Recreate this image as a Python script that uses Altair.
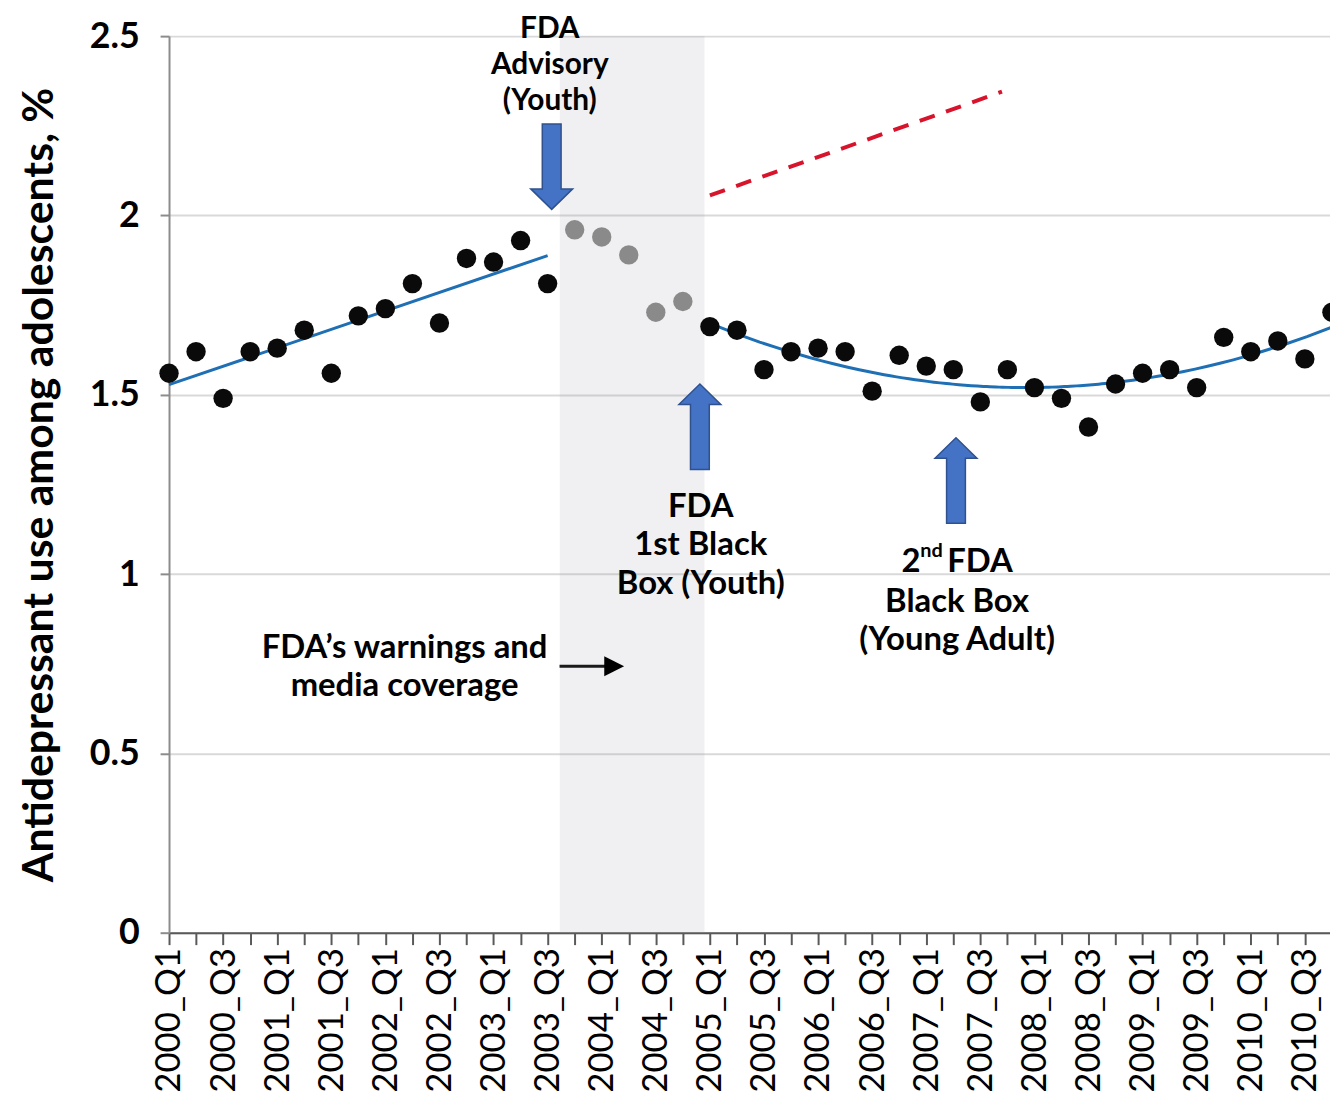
import altair as alt
import pandas as pd

# ---------------- data ----------------
quarters = [
    "2000_Q1", "2000_Q2", "2000_Q3", "2000_Q4",
    "2001_Q1", "2001_Q2", "2001_Q3", "2001_Q4",
    "2002_Q1", "2002_Q2", "2002_Q3", "2002_Q4",
    "2003_Q1", "2003_Q2", "2003_Q3", "2003_Q4",
    "2004_Q1", "2004_Q2", "2004_Q3", "2004_Q4",
    "2005_Q1", "2005_Q2", "2005_Q3", "2005_Q4",
    "2006_Q1", "2006_Q2", "2006_Q3", "2006_Q4",
    "2007_Q1", "2007_Q2", "2007_Q3", "2007_Q4",
    "2008_Q1", "2008_Q2", "2008_Q3", "2008_Q4",
    "2009_Q1", "2009_Q2", "2009_Q3", "2009_Q4",
    "2010_Q1", "2010_Q2", "2010_Q3", "2010_Q4",
]
usage = [
    1.56, 1.62, 1.49, 1.62,
    1.63, 1.68, 1.56, 1.72,
    1.74, 1.81, 1.70, 1.88,
    1.87, 1.93, 1.81, 1.96,
    1.94, 1.89, 1.73, 1.76,
    1.69, 1.68, 1.57, 1.62,
    1.63, 1.62, 1.51, 1.61,
    1.58, 1.57, 1.48, 1.57,
    1.52, 1.49, 1.41, 1.53,
    1.56, 1.57, 1.52, 1.66,
    1.62, 1.65, 1.60, 1.73,
]
warning_period = ["2003_Q4", "2004_Q1", "2004_Q2", "2004_Q3", "2004_Q4"]
pre_trend_end = "2003_Q3"
post_trend_start = "2005_Q1"

# shaded warnings / media coverage period (in quarter-index units)
band_from = [14.45]
band_to = [19.8]

# red dashed counterfactual trend
cf_x = [20.0, 30.8]
cf_y = [2.056, 2.345]

# blue block arrows (centre positions)
down_arrow_x = [14.15]
down_arrow_y = [2.136]
up_arrow_x = [19.63, 29.10]
up_arrow_y = [1.411, 1.261]

# small black arrow
small_arrow_x = [14.44, 16.17]
small_arrow_y = [0.743, 0.743]
small_head_x = [16.46]
small_head_y = [0.743]

# annotation above the first arrow
top_note_x = [14.08, 14.08, 14.08]
top_note_y = [2.519, 2.420, 2.320]
top_note_text = ["FDA", "Advisory", "(Youth)"]

note_x = [19.66, 19.66, 19.66, 29.14, 29.14, 8.71, 8.71]
note_y = [1.186, 1.081, 0.973, 0.923, 0.815, 0.795, 0.687]
note_text = ["FDA", "1st Black", "Box (Youth)",
             "Black Box", "(Young Adult)", "FDA\u2019s warnings and", "media coverage"]
sup_x = [29.14]
sup_y = [1.034]

y_ticks = [0, 0.5, 1, 1.5, 2, 2.5]

# ---------------- tables ----------------
df = pd.DataFrame({"quarter": quarters, "value": usage})
df["idx"] = range(len(quarters))
df["phase"] = ["warning" if q in warning_period else "normal" for q in quarters]
i_pre = quarters.index(pre_trend_end)
i_post = quarters.index(post_trend_start)
df_pre = df[df["idx"] <= i_pre]
df_post = df[df["idx"] >= i_post]

band_df = pd.DataFrame({"idx": band_from, "idx2": band_to, "value": [0], "value2": [2.5]})
cf_df = pd.DataFrame({"idx": cf_x, "value": cf_y})
down_df = pd.DataFrame({"idx": down_arrow_x, "value": down_arrow_y})
up_df = pd.DataFrame({"idx": up_arrow_x, "value": up_arrow_y})
sa_df = pd.DataFrame({"idx": small_arrow_x, "value": small_arrow_y})
sh_df = pd.DataFrame({"idx": small_head_x, "value": small_head_y})
top_df = pd.DataFrame({"idx": top_note_x, "value": top_note_y, "text": top_note_text})
notes_df = pd.DataFrame({"idx": note_x, "value": note_y, "text": note_text})
sup_df = pd.DataFrame({"idx": sup_x, "value": sup_y})

label_list = [q if i % 2 == 0 else "" for i, q in enumerate(quarters)]
label_expr = "[" + ",".join("'" + s + "'" for s in label_list) + "][datum.value]"

FONT = "Lato"
NOTE_SIZE = 33

x_axis = alt.Axis(
    values=list(range(len(quarters) - 1)), labelExpr=label_expr, labelAngle=270,
    labelFont=FONT, labelFontSize=35, labelColor="black", labelPadding=3,
    labelOverlap=False, labelFlush=False, tickSize=12, tickWidth=2,
    tickColor="#595959", domainColor="#595959", domainWidth=2, grid=False, title="",
)
y_axis = alt.Axis(
    values=y_ticks, format="~g", labelFont=FONT, labelFontWeight="bold",
    labelFontSize=36, labelColor="black", labelPadding=21, tickSize=9, tickWidth=2,
    tickColor="#8c8c8c", domainColor="#8c8c8c", domainWidth=2,
    gridColor="#d9d9d9", gridWidth=2,
    title="Antidepressant use among adolescents, %", titleFont=FONT, titleFontSize=43,
    titleFontWeight="bold", titleColor="black", titleAngle=270, titleX=-130, titleY=451,
    titleAlign="center", titleBaseline="middle",
)


def X():
    return alt.X("idx:Q", scale=alt.Scale(domain=[0, 42.93], nice=False, zero=False), axis=x_axis)


def Y():
    return alt.Y("value:Q", scale=alt.Scale(domain=[0, 2.5], nice=False), axis=y_axis)


band = alt.Chart(band_df).mark_rect(fill="#9a9aa8", opacity=0.15).encode(
    x=X(), x2="idx2:Q", y=Y(), y2="value2:Q")

cf_line = alt.Chart(cf_df).mark_line(color="#d7142b", strokeWidth=4, strokeDash=[16, 12]).encode(
    x=X(), y=Y())

trend_pre = alt.Chart(df_pre).transform_regression("idx", "value", method="linear").mark_line(
    color="#1f6fb4", strokeWidth=3).encode(x=X(), y=Y())
trend_post = alt.Chart(df_post).transform_regression("idx", "value", method="poly", order=2).mark_line(
    color="#1f6fb4", strokeWidth=3).encode(x=X(), y=Y())

points = alt.Chart(df).mark_circle(size=380, opacity=1).encode(
    x=X(), y=Y(),
    color=alt.Color("phase:N", scale=alt.Scale(domain=["normal", "warning"], range=["#0a0a0a", "#8a8a8a"]), legend=None),
)

down_path = "M-0.22,-1L0.22,-1L0.22,0.52L0.49,0.52L0,1L-0.49,0.52L-0.22,0.52Z"
up_path = "M-0.22,1L0.22,1L0.22,-0.52L0.49,-0.52L0,-1L-0.49,-0.52L-0.22,-0.52Z"

down_arrows = alt.Chart(down_df).mark_point(
    shape=down_path, filled=True, size=7396, fill="#4472c4", stroke="#2f528f", strokeWidth=1.5, opacity=1
).encode(x=X(), y=Y())
up_arrows = alt.Chart(up_df).mark_point(
    shape=up_path, filled=True, size=7396, fill="#4472c4", stroke="#2f528f", strokeWidth=1.5, opacity=1
).encode(x=X(), y=Y())

small_line = alt.Chart(sa_df).mark_line(color="#1a1a1a", strokeWidth=3).encode(x=X(), y=Y())
small_head = alt.Chart(sh_df).mark_point(
    shape="M-1,-1L1,0L-1,1Z", filled=True, size=400, color="#000000", opacity=1
).encode(x=X(), y=Y())

top_notes = alt.Chart(top_df).mark_text(
    font=FONT, fontSize=30, fontWeight="bold", color="black", align="center", baseline="middle"
).encode(x=X(), y=Y(), text="text:N")

notes = alt.Chart(notes_df).mark_text(
    font=FONT, fontSize=NOTE_SIZE, fontWeight="bold", color="black", align="center", baseline="middle"
).encode(x=X(), y=Y(), text="text:N")

sup_2 = alt.Chart(sup_df).mark_text(
    font=FONT, fontSize=NOTE_SIZE, fontWeight="bold", color="black", align="left", baseline="middle", dx=-56
).encode(x=X(), y=Y(), text=alt.value("2"))
sup_nd = alt.Chart(sup_df).mark_text(
    font=FONT, fontSize=20, fontWeight="bold", color="black", align="left", baseline="middle", dx=-37, dy=-11
).encode(x=X(), y=Y(), text=alt.value("nd"))
sup_fda = alt.Chart(sup_df).mark_text(
    font=FONT, fontSize=NOTE_SIZE, fontWeight="bold", color="black", align="left", baseline="middle", dx=-10
).encode(x=X(), y=Y(), text=alt.value("FDA"))

chart = alt.layer(
    band, cf_line, trend_pre, trend_post, points, down_arrows, up_arrows,
    small_line, small_head, top_notes, notes, sup_2, sup_nd, sup_fda,
).properties(
    width=1168, height=902,
    padding={"left": 162, "top": 25, "right": 0, "bottom": 162},
    autosize=alt.AutoSizeParams(type="none"),
    background="white",
).configure_view(stroke=None)

chart.save("out.html", embed_options={"renderer": "svg", "actions": False})
